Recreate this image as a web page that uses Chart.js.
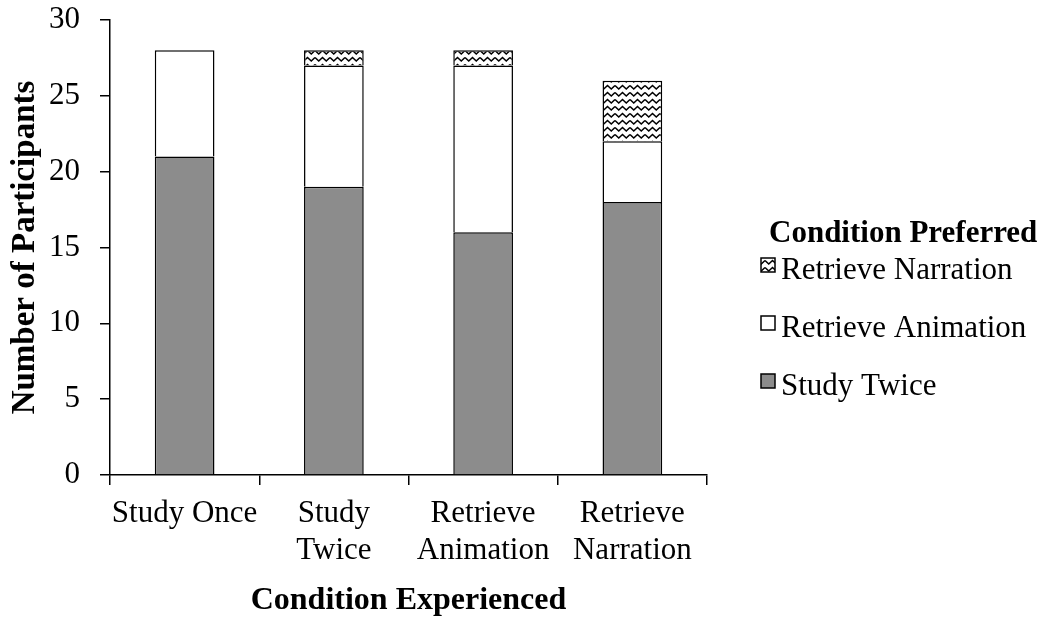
<!DOCTYPE html>
<html><head><meta charset="utf-8">
<script src="https://cdn.jsdelivr.net/npm/chart.js@4"></script>
<style>html,body{margin:0;padding:0;background:#fff}#wrap{width:1048px;height:620px}</style>
</head><body><div id="wrap"><canvas id="c" width="1048" height="620"></canvas></div>
<script>
const categories = [["Study Once"], ["Study", "Twice"], ["Retrieve", "Animation"], ["Retrieve", "Narration"]];
const studyTwice = [21, 19, 16, 18];
const retrieveAnimation = [7, 8, 11, 4];
const retrieveNarration = [0, 1, 1, 4];
const yTicks = [0, 5, 10, 15, 20, 25, 30];
const legendTitle = 'Condition Preferred';

function wavePattern() {
  const c = document.createElement('canvas');
  c.width = 15; c.height = 7;
  const g = c.getContext('2d');
  g.fillStyle = '#fff'; g.fillRect(0, 0, 15, 7);
  g.strokeStyle = '#000'; g.lineWidth = 1.6;
  g.beginPath();
  g.moveTo(0, 1.5); g.lineTo(3.75, 5); g.lineTo(7.5, 1.5); g.lineTo(11.25, 5); g.lineTo(15, 1.5);
  g.stroke();
  return g.createPattern(c, 'repeat');
}
const pat = wavePattern();
const FONT = "'Liberation Serif','Times New Roman',serif";
Chart.defaults.font.family = FONT;
Chart.defaults.color = '#000';

const sideLegend = {
  id: 'sideLegend',
  afterDraw(chart) {
    const ctx = chart.ctx;
    ctx.save();
    ctx.fillStyle = '#000';
    ctx.textBaseline = 'alphabetic';
    ctx.textAlign = 'left';
    ctx.font = "bold 31px " + FONT;
    ctx.fillText(legendTitle, 769, 242);
    ctx.font = "31px " + FONT;
    const ds = chart.data.datasets.slice().reverse();
    ds.forEach((d, i) => {
      const base = 279 + i * 58;
      ctx.fillStyle = d.backgroundColor;
      ctx.fillRect(761, base - 21, 14, 14);
      ctx.strokeStyle = '#000';
      ctx.lineWidth = 1.5;
      ctx.strokeRect(761, base - 21, 14, 14);
      ctx.fillStyle = '#000';
      ctx.fillText(d.label, 781, base);
    });
    ctx.restore();
  }
};

new Chart(document.getElementById('c'), {
  type: 'bar',
  data: {
    labels: categories,
    datasets: [
      { label: 'Study Twice', data: studyTwice, backgroundColor: '#8c8c8c', borderColor: '#000', borderWidth: 1.5 },
      { label: 'Retrieve Animation', data: retrieveAnimation, backgroundColor: '#fff', borderColor: '#000', borderWidth: 1.5 },
      { label: 'Retrieve Narration', data: retrieveNarration, backgroundColor: pat, borderColor: '#000', borderWidth: 1.5 }
    ]
  },
  plugins: [sideLegend],
  options: {
    responsive: false,
    animation: false,
    devicePixelRatio: 1,
    layout: { padding: { top: 20, left: 6, right: 341, bottom: 0 } },
    datasets: { bar: { barPercentage: 0.4, categoryPercentage: 1.0 } },
    plugins: {
      legend: { display: false },
      tooltip: { enabled: false }
    },
    scales: {
      x: {
        stacked: true,
        offset: true,
        afterFit: (s) => { s.height = 145; s.paddingLeft = 0; s.paddingRight = 0; },
        grid: { offset: true, drawOnChartArea: false, drawTicks: true, tickLength: 10, color: '#000', lineWidth: 1.5 },
        border: { display: true, color: '#000', width: 1.5 },
        ticks: { font: { size: 31, lineHeight: 1.2 }, color: '#000', padding: 10, maxRotation: 0, autoSkip: false },
        title: { display: true, text: 'Condition Experienced', font: { size: 32, weight: 'bold', lineHeight: 1.2 }, color: '#000', padding: { top: 4, bottom: 0 } }
      },
      y: {
        stacked: true,
        min: 0, max: 30,
        afterFit: (s) => { s.width = 104; s.paddingTop = 0; s.paddingBottom = 0; },
        afterBuildTicks: (s) => { s.ticks = yTicks.map(v => ({ value: v })); },
        grid: { drawOnChartArea: false, drawTicks: true, tickLength: 10, color: '#000', lineWidth: 1.5 },
        border: { display: true, color: '#000', width: 1.5 },
        ticks: { font: { size: 31 }, color: '#000', padding: 20 },
        title: { display: true, text: 'Number of Participants', font: { size: 33, weight: 'bold', lineHeight: 1.2 }, color: '#000', padding: { top: 0, bottom: 6 } }
      }
    }
  }
});
</script></body></html>
